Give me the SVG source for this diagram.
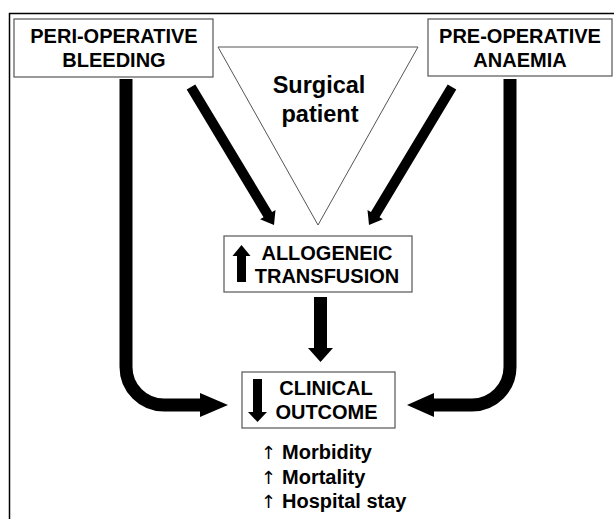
<svg xmlns="http://www.w3.org/2000/svg" width="614" height="519" viewBox="0 0 614 519">
<style>
.box{fill:#fff;stroke:#555;stroke-width:1.2}
.tri{fill:#fff;stroke:#555;stroke-width:1}
.t{font-family:"Liberation Sans",Arial,sans-serif;font-weight:bold;font-size:20px;fill:#000;text-anchor:middle}
.big{font-size:23.5px}
.lst{font-family:"Liberation Sans",Arial,sans-serif;font-weight:bold;font-size:20px;fill:#000}
.ar{font-weight:normal;font-family:"DejaVu Sans","Liberation Sans",sans-serif;font-size:18px}
.conn{fill:none;stroke:#000;stroke-width:13}
.fill{fill:#000;stroke:none}
</style>
<rect x="0" y="0" width="614" height="519" fill="#fff"/>
<rect x="9.5" y="13.5" width="640" height="540" fill="none" stroke="#000" stroke-width="1.5"/>

<g id="patient">
<polygon class="tri" points="218,47 418,47 318,225"/>
<text class="t big" x="319" y="93">Surgical</text>
<text class="t big" x="320" y="122">patient</text>
</g>

<g id="peri-operative-bleeding">
<rect class="box" x="14" y="19" width="199" height="58"/>
<text class="t" x="114" y="43">PERI-OPERATIVE</text>
<text class="t" x="114" y="67">BLEEDING</text>
</g>

<g id="pre-operative-anaemia">
<rect class="box" x="428" y="19" width="184" height="57"/>
<text class="t" x="520" y="43">PRE-OPERATIVE</text>
<text class="t" x="520" y="67">ANAEMIA</text>
</g>

<g id="allogeneic-transfusion">
<rect class="box" x="224" y="236" width="188" height="56"/>
<rect class="fill" x="237" y="255" width="9" height="27"/>
<polygon class="fill" points="232.5,256 250.5,256 241.5,245"/>
<text class="t" x="327" y="260">ALLOGENEIC</text>
<text class="t" x="327" y="283">TRANSFUSION</text>
</g>

<g id="clinical-outcome">
<rect class="box" x="242" y="372" width="153" height="56"/>
<rect class="fill" x="253" y="379" width="9" height="34"/>
<polygon class="fill" points="248,412 267,412 257.5,422"/>
<text class="t" x="326" y="395">CLINICAL</text>
<text class="t" x="326.5" y="419">OUTCOME</text>
</g>

<g id="outcomes">
<text class="lst" x="261" y="459"><tspan class="ar">↑</tspan><tspan x="282">Morbidity</tspan></text>
<text class="lst" x="261" y="484"><tspan class="ar">↑</tspan><tspan x="282">Mortality</tspan></text>
<text class="lst" x="261" y="508"><tspan class="ar">↑</tspan><tspan x="282">Hospital stay</tspan></text>
</g>

<g id="connectors">
<path class="conn" d="M126,79 V367 A38,38 0 0 0 164,405 H202"/>
<polygon class="fill" points="200,393 228,405 200,417"/>
<path class="conn" d="M510,79 V367 A38,38 0 0 1 472,405 H432"/>
<polygon class="fill" points="434,393 407,405 434,417"/>
<rect class="fill" x="314" y="297" width="13" height="52"/>
<polygon class="fill" points="308,348 333,348 320.5,362"/>
<polygon class="fill" points="195.3,84.4 272.1,212.1 275.5,210.1 274,225 260.1,219.3 263.5,217.3 186.7,89.6"/>
<polygon class="fill" points="447.7,84.4 370.9,212.1 367.5,210.1 369,225 382.9,219.3 379.5,217.3 456.3,89.6"/>
</g>
</svg>
